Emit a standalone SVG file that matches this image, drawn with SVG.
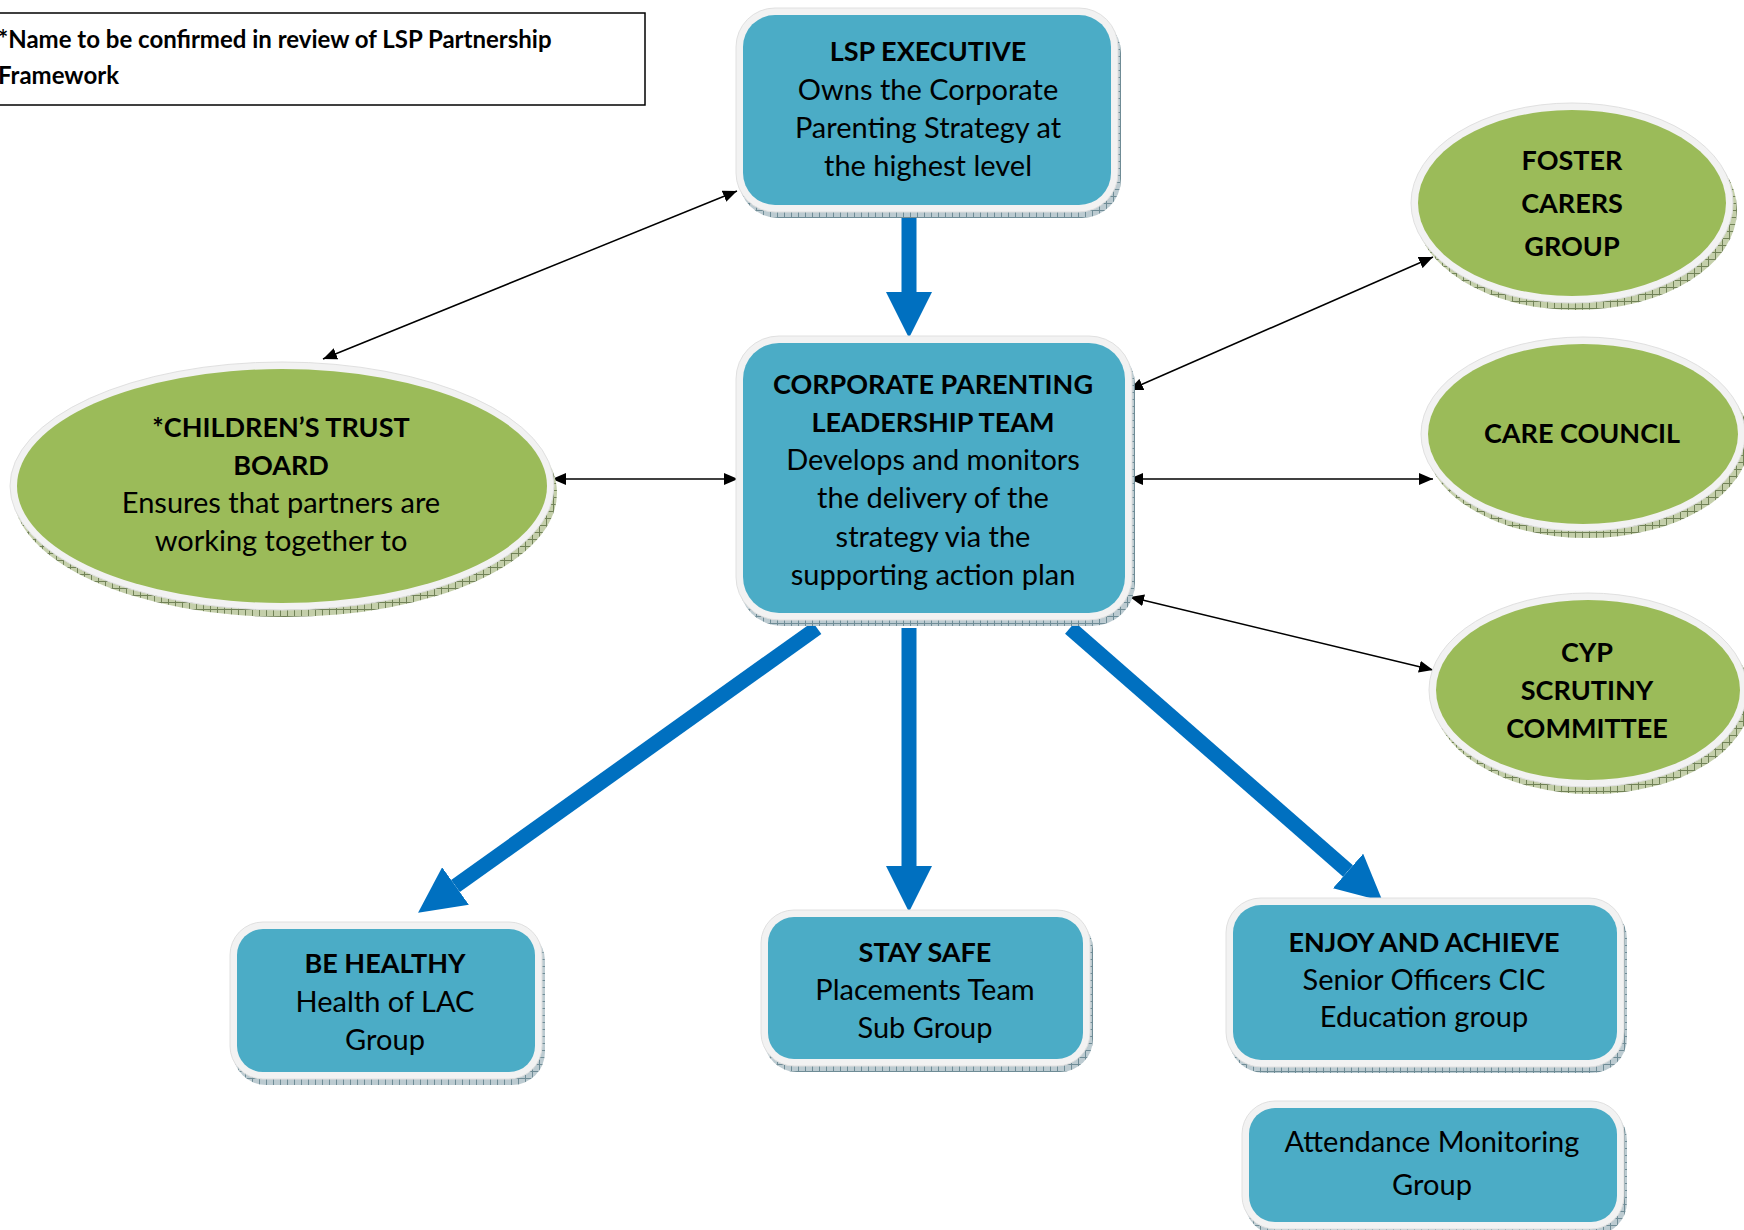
<svg xmlns="http://www.w3.org/2000/svg" width="1744" height="1230" viewBox="0 0 1744 1230">
<defs>
<pattern id="hatchB" width="7" height="7" patternUnits="userSpaceOnUse"><rect width="7" height="7" fill="#BCCBD1"/><path d="M0 0.5H7M0.5 0V7" stroke="#6F8C96" stroke-width="1"/></pattern>
<pattern id="hatchG" width="7" height="7" patternUnits="userSpaceOnUse"><rect width="7" height="7" fill="#C4CFAA"/><path d="M0 0.5H7M0.5 0V7" stroke="#718257" stroke-width="1"/></pattern>
<marker id="ah" markerUnits="userSpaceOnUse" markerWidth="14" markerHeight="12" viewBox="0 0 14 12" refX="14" refY="6" orient="auto-start-reverse"><path d="M0 0L14 6L0 12Z" fill="#000"/></marker>
<marker id="bh" markerUnits="userSpaceOnUse" markerWidth="46" markerHeight="46" viewBox="0 0 46 46" refX="0" refY="23" orient="auto"><path d="M0 0L46 23L0 46Z" fill="#0070C0"/></marker>
</defs>
<style>
.shB{fill:url(#hatchB)}
.shG{fill:url(#hatchG)}
.rim{fill:#F2F2F2;stroke:#E0E0E0;stroke-width:1}
.blue{fill:#4BACC6}
.green{fill:#9BBB59}
text{font-family:Lato,"Open Sans","Liberation Sans",sans-serif;font-size:29px;fill:#000;text-anchor:middle}
.b{font-weight:bold;font-size:27px}
.thin{stroke:#000;stroke-width:1.5;fill:none;marker-start:url(#ah);marker-end:url(#ah)}
.thick{stroke:#0070C0;stroke-width:15;fill:none;marker-end:url(#bh)}
.note{font-size:24px;font-weight:bold;text-anchor:start}
</style>
<rect width="1744" height="1230" fill="#fff"/>

<g id="note">
<rect x="-2" y="13" width="647" height="92" fill="#fff" stroke="#000" stroke-width="1.5"/>
<text class="note" x="-2" y="48">*Name to be confirmed in review of LSP Partnership</text>
<text class="note" x="-2" y="84">Framework</text>
</g>

<g id="connectors">
<line class="thin" x1="737" y1="191" x2="323" y2="359"/>
<line class="thin" x1="738" y1="479" x2="552" y2="479"/>
<line class="thin" x1="1129" y1="390" x2="1433" y2="257"/>
<line class="thin" x1="1129" y1="479" x2="1433" y2="479"/>
<line class="thin" x1="1130" y1="597" x2="1433" y2="670"/>
<line class="thick" x1="909" y1="217" x2="909" y2="292"/>
<line class="thick" x1="909" y1="628" x2="909" y2="866"/>
<line class="thick" x1="817" y1="628" x2="455.5" y2="886"/>
<line class="thick" x1="1070" y1="628" x2="1348" y2="871"/>
</g>

<g id="lsp-executive">
<rect class="shB" x="739" y="14" width="382" height="204" rx="39"/>
<rect class="rim" x="736" y="8" width="382" height="204" rx="39"/>
<rect class="blue" x="743" y="15" width="368" height="190" rx="32"/>
<text class="b" x="928" y="61">LSP EXECUTIVE</text>
<text x="928" y="100">Owns the Corporate</text>
<text x="928" y="138">Parenting Strategy at</text>
<text x="928" y="176">the highest level</text>
</g>

<g id="cplt">
<rect class="shB" x="739" y="342" width="396" height="284" rx="43"/>
<rect class="rim" x="736" y="336" width="396" height="284" rx="43"/>
<rect class="blue" x="743" y="343" width="382" height="270" rx="36"/>
<text class="b" x="933" y="394">CORPORATE PARENTING</text>
<text class="b" x="933" y="432">LEADERSHIP TEAM</text>
<text x="933" y="470">Develops and monitors</text>
<text x="933" y="508">the delivery of the</text>
<text x="933" y="547">strategy via the</text>
<text x="933" y="585">supporting action plan</text>
</g>

<g id="childrens-trust">
<ellipse class="shG" cx="285" cy="493" rx="272" ry="124"/>
<ellipse class="rim" cx="282" cy="486" rx="272" ry="124"/>
<ellipse class="green" cx="282" cy="486" rx="265" ry="117"/>
<text class="b" x="281" y="437">*CHILDREN’S TRUST</text>
<text class="b" x="281" y="475">BOARD</text>
<text x="281" y="513">Ensures that partners are</text>
<text x="281" y="551">working together to</text>
</g>

<g id="foster-carers">
<ellipse class="shG" cx="1576" cy="210" rx="161" ry="100"/>
<ellipse class="rim" cx="1572" cy="203" rx="161" ry="100"/>
<ellipse class="green" cx="1572" cy="203" rx="154" ry="93"/>
<text class="b" x="1572" y="170">FOSTER</text>
<text class="b" x="1572" y="213">CARERS</text>
<text class="b" x="1572" y="256">GROUP</text>
</g>

<g id="care-council">
<ellipse class="shG" cx="1587" cy="441" rx="162" ry="97"/>
<ellipse class="rim" cx="1583" cy="434" rx="162" ry="97"/>
<ellipse class="green" cx="1583" cy="434" rx="155" ry="90"/>
<text class="b" x="1582" y="443">CARE COUNCIL</text>
</g>

<g id="cyp-scrutiny">
<ellipse class="shG" cx="1592" cy="697" rx="159" ry="97"/>
<ellipse class="rim" cx="1588" cy="690" rx="159" ry="97"/>
<ellipse class="green" cx="1588" cy="690" rx="152" ry="90"/>
<text class="b" x="1587" y="662">CYP</text>
<text class="b" x="1587" y="700">SCRUTINY</text>
<text class="b" x="1587" y="738">COMMITTEE</text>
</g>

<g id="be-healthy">
<rect class="shB" x="233" y="928" width="312" height="157" rx="33"/>
<rect class="rim" x="230" y="922" width="312" height="157" rx="33"/>
<rect class="blue" x="237" y="929" width="298" height="143" rx="26"/>
<text class="b" x="385" y="973">BE HEALTHY</text>
<text x="385" y="1012">Health of LAC</text>
<text x="385" y="1050">Group</text>
</g>

<g id="stay-safe">
<rect class="shB" x="764" y="916" width="329" height="156" rx="33"/>
<rect class="rim" x="761" y="910" width="329" height="156" rx="33"/>
<rect class="blue" x="768" y="917" width="315" height="142" rx="26"/>
<text class="b" x="925" y="962">STAY SAFE</text>
<text x="925" y="1000">Placements Team</text>
<text x="925" y="1038">Sub Group</text>
</g>

<g id="enjoy-achieve">
<rect class="shB" x="1229" y="904" width="398" height="169" rx="35"/>
<rect class="rim" x="1226" y="898" width="398" height="169" rx="35"/>
<rect class="blue" x="1233" y="905" width="384" height="155" rx="28"/>
<text class="b" x="1424" y="952">ENJOY AND ACHIEVE</text>
<text x="1424" y="990">Senior Officers CIC</text>
<text x="1424" y="1027">Education group</text>
</g>

<g id="attendance">
<rect class="shB" x="1245" y="1107" width="382" height="128" rx="33"/>
<rect class="rim" x="1242" y="1101" width="382" height="128" rx="33"/>
<rect class="blue" x="1249" y="1108" width="368" height="114" rx="26"/>
<text x="1432" y="1152">Attendance Monitoring</text>
<text x="1432" y="1195">Group</text>
</g>
</svg>
